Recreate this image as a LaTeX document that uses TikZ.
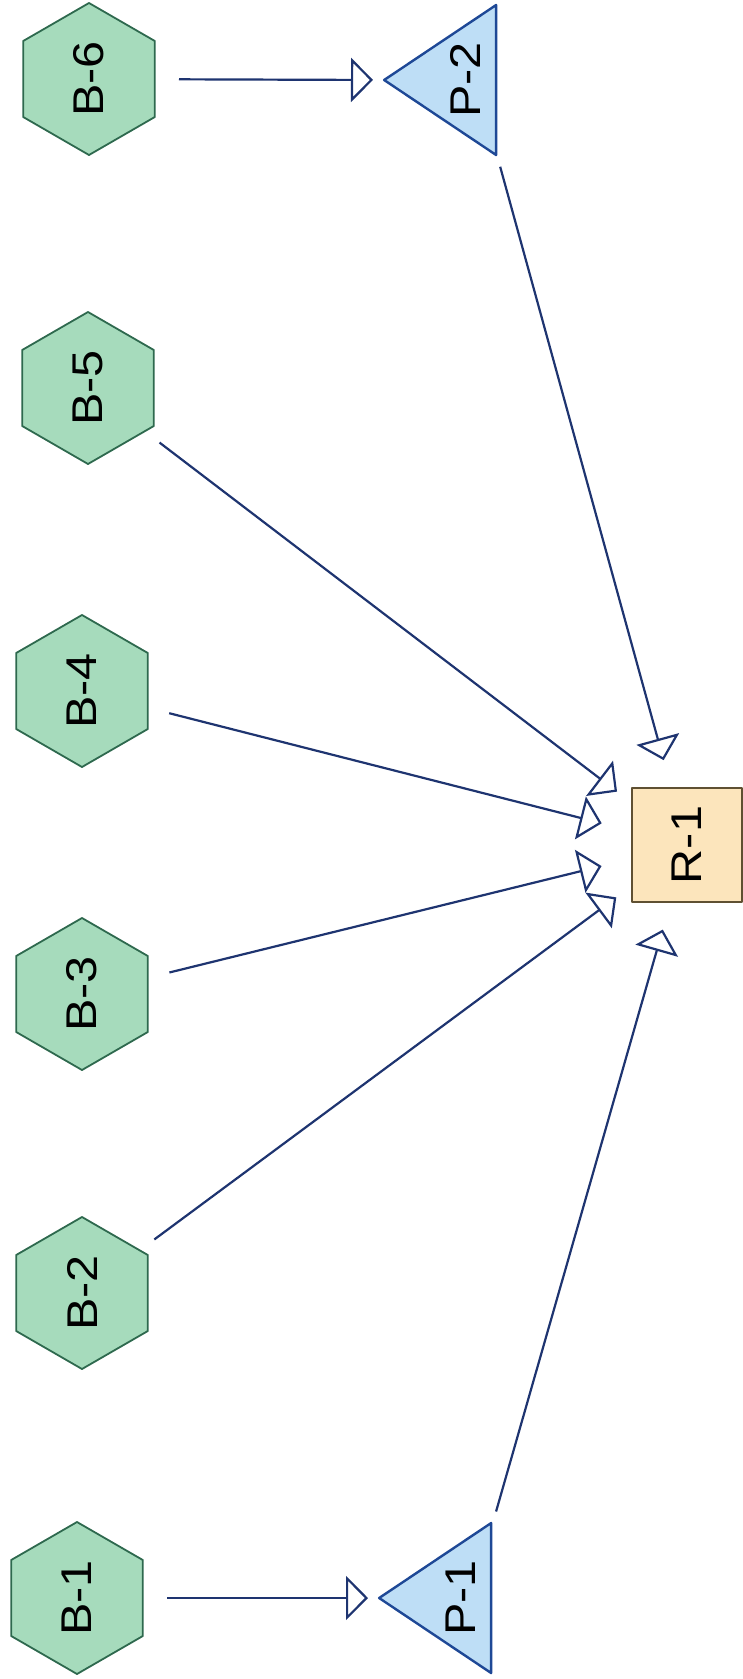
\documentclass[tikz,border=0pt]{standalone}
\usepackage{fontspec}
\setmainfont{Liberation Sans}
\usetikzlibrary{shapes.geometric, arrows.meta}

\newcommand{\sidetext}[1]{\rotatebox{90}{\scalebox{1.13}[1]{#1}}}
\newcommand{\basetext}[1]{\makebox[0pt]{\sidetext{#1}\hspace*{22pt}}}

\begin{document}
\begin{tikzpicture}
    [x=1pt, y=-1pt, line join=round,
    font=\fontsize{43}{46}\selectfont,
    % Styles
    block/.style={regular polygon, regular polygon sides=6, shape border rotate=90,
        minimum size=152pt, inner sep=0pt, draw=blockline, fill=blockfill, line width=1.8pt},
    product/.style={isosceles triangle, isosceles triangle stretches, shape border rotate=180,
        minimum width=150pt, minimum height=112pt, inner sep=0pt,
        draw=productline, fill=productfill, line width=2.4pt},
    result/.style={rectangle, minimum width=110pt, minimum height=114pt, inner sep=0pt,
        draw=resultline, fill=resultfill, line width=1.8pt},
    link/.style={draw=linkcolor, line width=2.2pt,
        -{Triangle[open, length=22pt, width=44pt]}, shorten <=90pt, shorten >=88pt},
    feed/.style={link, shorten >=8pt}]

    % Colors
    \definecolor{blockfill}{RGB}{166,219,188}
    \definecolor{blockline}{RGB}{46,105,78}
    \definecolor{productfill}{RGB}{190,222,246}
    \definecolor{productline}{RGB}{30,72,150}
    \definecolor{resultfill}{RGB}{252,229,188}
    \definecolor{resultline}{RGB}{95,80,50}
    \definecolor{linkcolor}{RGB}{30,52,112}

    \useasboundingbox (0,0) rectangle (742,1679);

    % Blocks
    \node[block] (B6) at (89,79) {\sidetext{B-6}};
    \node[block] (B5) at (88,388) {\sidetext{B-5}};
    \node[block] (B4) at (82,691) {\sidetext{B-4}};
    \node[block] (B3) at (82,994) {\sidetext{B-3}};
    \node[block] (B2) at (82,1293) {\sidetext{B-2}};
    \node[block] (B1) at (77,1598) {\sidetext{B-1}};

    % Products and result
    \node[product, anchor=apex] (P2) at (381,80) {\basetext{P-2}};
    \node[product, anchor=apex] (P1) at (376,1598) {\basetext{P-1}};
    \node[result] (R1) at (687,845) {\sidetext{R-1}};

    % Links
    \draw[feed] (B6.center) -- (P2.apex);
    \draw[feed] (B1.center) -- (P1.apex);
    \foreach \b in {B5, B4, B3, B2}
        \draw[link] (\b.center) -- (R1.center);
    \draw[link] (P2.center) -- (R1.center);
    \draw[link] (P1.center) -- (R1.center);

\end{tikzpicture}
\end{document}
